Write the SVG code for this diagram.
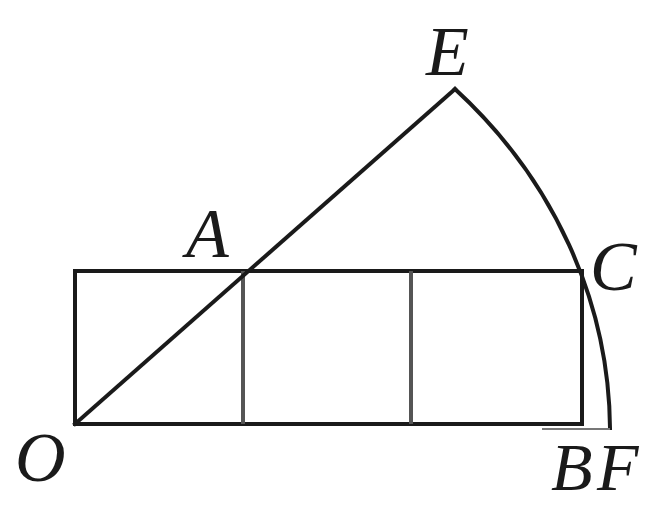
<svg xmlns="http://www.w3.org/2000/svg" width="656" height="506" viewBox="0 0 656 506">
<style>
.s{fill:none;stroke:#1a1a1a;stroke-width:4;stroke-linecap:square}
.g{fill:none;stroke:#555;stroke-width:4}
.t{font-family:"Liberation Serif","Times New Roman",serif;font-style:italic;font-size:70px;fill:#1a1a1a}
</style>
<rect width="656" height="506" fill="#fff"/>
<g id="figure">
<rect class="s" x="75" y="271" width="507" height="153"/>
<line class="g" x1="243" y1="271" x2="243" y2="424"/>
<line class="g" x1="411" y1="271" x2="411" y2="424"/>
<line class="s" x1="75" y1="424" x2="455" y2="89" stroke-width="3.5"/>
<path class="s" d="M455,89 A535,487 0 0 1 610,428" stroke-width="3.5"/>
<line x1="542" y1="429" x2="610" y2="429" stroke="#777" stroke-width="2"/>
</g>
<g id="labels">
<text class="t" x="426" y="75">E</text>
<text class="t" x="186" y="257">A</text>
<text class="t" x="590" y="290">C</text>
<text class="t" x="15" y="481">O</text>
<text class="t" x="551" y="490" style="font-size:68px">B</text>
<text class="t" x="597" y="490" style="font-size:68px">F</text>
</g>
</svg>
